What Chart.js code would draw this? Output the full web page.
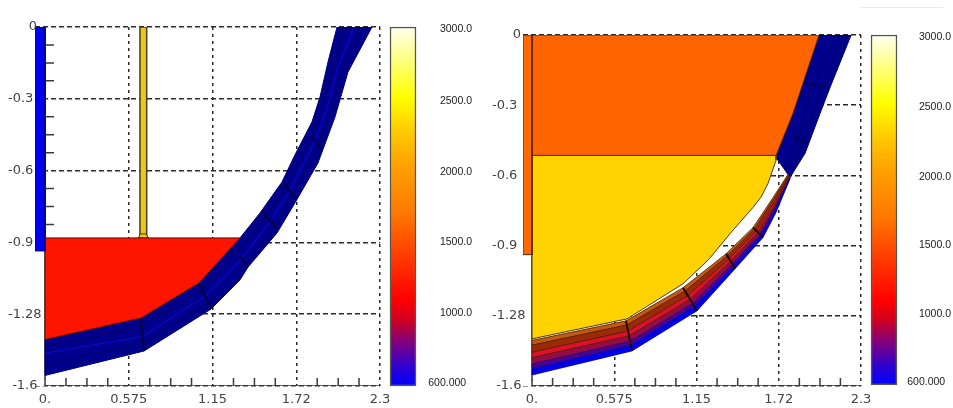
<!DOCTYPE html>
<html>
<head>
<meta charset="utf-8">
<script src="https://cdn.jsdelivr.net/npm/chart.js@4"></script>
<style>
html, body { margin: 0; padding: 0; background: #fff; }
body { position: relative; width: 953px; height: 408px; overflow: hidden; }
canvas { position: absolute; top: 0; filter: blur(0.5px); }
#mark { position: absolute; left: 861px; top: 7px; width: 82px; height: 1px; background: #e8e8e8; }
</style>
</head>
<body>
<canvas id="plotLeft" style="left:0" width="395" height="408"></canvas>
<canvas id="plotRight" style="left:488px" width="395" height="408"></canvas>
<canvas id="barLeft" style="left:385px" width="90" height="408"></canvas>
<canvas id="barRight" style="left:866px" width="87" height="408"></canvas>
<div id="mark"></div>
<script>
// axis ticks, y labels are left aligned so the 0 gets leading spaces
const xTicks = [0, 0.575, 1.15, 1.725, 2.3];
const xLabels = ['0.', '0.575', '1.15', '1.72', '2.3'];
const yTicks = [0, -0.32, -0.64, -0.96, -1.28, -1.6];
const yLabels = ['     0', '-0.3', '-0.6', '-0.9', '-1.28', ' -1.6'];
const xMinor = [0.144, 0.288, 0.431, 0.719, 0.863, 1.006, 1.294, 1.438, 1.581, 1.869, 2.013, 2.156];
const yMinor = [-0.08, -0.16, -0.24, -0.4, -0.48, -0.56, -0.72, -0.8, -0.88];

// colour bar
const barTicks = [620, 1087, 1560, 2027, 2503, 2987];
const barLabels = ['600.000  ', '1000.0', '1500.0', '2000.0', '2500.0', '3000.0'];
const barStops = [600, 733, 889, 1044, 1178, 1489, 1756, 2067, 2289, 2533, 2844, 3000];
const barColors = ['#0000ff', '#3000d0', '#800080', '#d00020', '#ff0000', '#ff4000', '#ff7800', '#ffa000', '#ffc800', '#ffff00', '#ffffa0', '#fffff0'];

// left panel
const leftWall = [[-0.0687, 0], [0, 0], [0, -0.998], [-0.0687, -0.998], [-0.0687, 0]];
const leftRod = [[0.652, 0], [0.698, 0], [0.698, -0.94], [0.652, -0.94], [0.652, 0]];
const leftFoot = [[0.64, -0.94], [0.71, -0.94], [0.695, -0.922], [0.655, -0.922], [0.64, -0.94]];
const leftPool = [[0, -0.94], [1.339, -0.94], [1.057, -1.141], [0.659, -1.297], [0, -1.393], [0, -0.94]];
const leftInner = [[0, -1.393], [0.659, -1.297], [1.057, -1.141], [1.339, -0.94], [1.476, -0.829], [1.627, -0.691], [1.716, -0.57], [1.833, -0.423], [1.888, -0.312], [1.943, -0.156], [2.005, 0]];
const leftOuter = [[0, -1.553], [0.68, -1.444], [1.14, -1.257], [1.339, -1.127], [1.394, -1.07], [1.593, -0.918], [1.716, -0.784], [1.874, -0.606], [1.991, -0.401], [2.08, -0.201], [2.245, 0]];
const leftMidA = [[0, -1.454], [0.664, -1.38], [1.1, -1.2], [1.339, -1.04], [1.536, -0.875], [1.67, -0.74], [1.85, -0.515], [1.94, -0.355], [2.01, -0.18], [2.125, 0]];
const leftMidB = [[0, -1.505], [0.672, -1.41], [1.12, -1.23], [1.36, -1.08], [1.56, -0.9], [1.69, -0.765], [1.86, -0.56], [1.965, -0.38], [2.045, -0.19], [2.185, 0]];
const leftMidC = [[0, -1.425], [0.662, -1.335], [1.08, -1.17], [1.33, -0.995], [1.51, -0.85], [1.65, -0.715], [1.84, -0.47], [1.915, -0.335], [1.975, -0.17], [2.065, 0]];
const leftCross = [
  [[0.659, -1.297], [0.68, -1.444]],
  [[1.057, -1.141], [1.14, -1.257]],
  [[1.339, -1.025], [1.394, -1.07]],
  [[1.49, -0.824], [1.593, -0.896]],
  [[1.634, -0.695], [1.716, -0.762]],
  [[1.833, -0.49], [1.902, -0.548]]
];

// right panel
const rightWall = [[-0.063, 0], [0, 0], [0, -1.001], [-0.063, -1.001], [-0.063, 0]];
const rightTop = [[0, 0], [2.007, 0], [1.895, -0.219], [1.825, -0.357], [1.706, -0.549], [0, -0.549], [0, 0]];
const rightPool = [[0, -0.549], [1.706, -0.549], [1.706, -0.571], [1.65, -0.677], [1.6, -0.74], [1.545, -0.786], [1.385, -0.905], [1.24, -1.02], [1.056, -1.134], [0.664, -1.294], [0, -1.385], [0, -0.549]];
const rightBand = [[1.804, -0.649], [1.909, -0.539], [2.014, -0.357], [2.084, -0.238], [2.231, 0], [2.007, 0], [1.895, -0.219], [1.825, -0.357], [1.706, -0.558], [1.804, -0.649]];
const rightMidA = [[1.79, -0.6], [1.885, -0.42], [1.95, -0.25], [2.12, 0]];
const rightMidB = [[1.84, -0.59], [1.94, -0.4], [2.02, -0.24], [2.18, 0]];
const layer0 = [[0, -1.392], [0.657, -1.303], [1.056, -1.152], [1.357, -0.997], [1.545, -0.878], [1.685, -0.741], [1.79, -0.635]];
const layer1 = [[0, -1.414], [0.663, -1.322], [1.07, -1.167], [1.366, -1.007], [1.555, -0.884], [1.688, -0.751], [1.794, -0.64]];
const layer2 = [[0, -1.446], [0.671, -1.35], [1.089, -1.188], [1.378, -1.02], [1.569, -0.893], [1.692, -0.764], [1.797, -0.644]];
const layer3 = [[0, -1.471], [0.678, -1.372], [1.105, -1.205], [1.389, -1.031], [1.58, -0.9], [1.696, -0.775], [1.799, -0.647]];
const layer4 = [[0, -1.499], [0.686, -1.396], [1.123, -1.223], [1.4, -1.043], [1.593, -0.909], [1.699, -0.787], [1.801, -0.65]];
const layer5 = [[0, -1.522], [0.691, -1.415], [1.136, -1.238], [1.409, -1.053], [1.602, -0.915], [1.702, -0.797], [1.803, -0.652]];
const layer6 = [[0, -1.55], [0.699, -1.44], [1.154, -1.257], [1.42, -1.065], [1.615, -0.923], [1.706, -0.809], [1.804, -0.655]];
const layerColors = ['#c05a10', '#9a2a08', '#dc1028', '#960a48', '#4a0090'];
const layerOuterColor = '#0000e8';
const rightCrossBlue = [
  [[1.825, -0.457], [1.93, -0.5]],
  [[1.895, -0.219], [2.05, -0.235]]
];
const rightCrossLayer = [
  [[0.657, -1.303], [0.699, -1.44]],
  [[1.056, -1.152], [1.154, -1.257]],
  [[1.357, -0.997], [1.42, -1.065]],
  [[1.545, -0.878], [1.615, -0.923]]
];

const inkColor = '#3c3c3c';

function pts(list) {
  return list.map(p => ({ x: p[0], y: p[1] }));
}

// closed polygon, filled through the filler plugin
function shape(list, fillColor, edgeColor, edgeWidth) {
  return {
    data: pts(list), showLine: true, fill: 'shape', backgroundColor: fillColor,
    borderColor: edgeColor, borderWidth: edgeWidth, pointRadius: 0
  };
}

function line(list, color, width) {
  return { data: pts(list), showLine: true, borderColor: color, borderWidth: width, pointRadius: 0, fill: false };
}

// several separate strokes in one dataset, NaN breaks the line
function strokes(lists, color, width) {
  const all = [];
  lists.forEach(l => { all.push(...l, [NaN, NaN]); });
  return line(all, color, width);
}

function band(a, b) {
  return a.concat(b.slice().reverse()).concat([a[0]]);
}

function makePlot(id, xMin, area, labelPad, paint) {
  const wallMask = [[xMin, -0.95], [-0.002, -0.95], [-0.002, -1.6], [xMin, -1.6], [xMin, -0.95]];
  const xMarks = xMinor.map(v => [[v, -1.6], [v, -1.564]]);
  const yMarks = yMinor.map(v => [[0, v], [0.062, v]]);
  const axisLine = [[0, 0], [0, -1.6], [2.3, -1.6]];
  const datasets = [
    shape(wallMask, '#ffffff', '#ffffff', 0),
    strokes(xMarks, inkColor, 1.5),
    strokes(yMarks, inkColor, 1.5),
    line(axisLine, inkColor, 1.5)
  ].concat(paint);
  return new Chart(document.getElementById(id), {
    type: 'scatter',
    data: { datasets: datasets.reverse() },
    options: {
      responsive: false, animation: false,
      layout: { padding: area },
      plugins: { legend: { display: false }, tooltip: { enabled: false } },
      scales: {
        x: {
          type: 'linear', min: xMin, max: 2.3,
          afterBuildTicks: s => { s.ticks = xTicks.map(v => ({ value: v })); },
          afterFit: s => { s.height = 22; s.paddingLeft = 0; s.paddingRight = 0; },
          border: { display: false, dash: [3, 4] },
          grid: { color: '#2a2a2a', lineWidth: 1.5, drawTicks: false },
          ticks: {
            autoSkip: false, maxRotation: 0, padding: 6, color: '#444',
            font: { family: 'DejaVu Sans', size: 13 },
            callback: (v, i) => xLabels[i]
          }
        },
        y: {
          type: 'linear', min: -1.6, max: 0,
          afterBuildTicks: s => { s.ticks = yTicks.map(v => ({ value: v })); },
          afterFit: s => { s.width = 35; s.paddingTop = 0; s.paddingBottom = 0; },
          border: { display: false, dash: [5, 3] },
          grid: { color: '#2a2a2a', lineWidth: 1.5, drawTicks: false },
          ticks: {
            autoSkip: false, mirror: true, padding: labelPad, color: '#444', z: 1,
            font: { family: 'DejaVu Sans', size: 13 },
            callback: (v, i) => yLabels[i]
          }
        }
      }
    }
  });
}

function makeBar(id, area) {
  return new Chart(document.getElementById(id), {
    type: 'bar',
    data: {
      labels: [''],
      datasets: [{
        data: [[600, 3000]],
        barPercentage: 1, categoryPercentage: 1, clip: false,
        borderColor: '#55554a', borderWidth: 1.5, borderSkipped: false,
        backgroundColor(ctx) {
          const c = ctx.chart;
          if (!c.chartArea) return '#000';
          const s = c.scales.y;
          const g = c.ctx.createLinearGradient(0, s.getPixelForValue(600), 0, s.getPixelForValue(3000));
          barStops.forEach((v, i) => g.addColorStop((v - 600) / 2400, barColors[i]));
          return g;
        }
      }]
    },
    options: {
      responsive: false, animation: false,
      layout: { padding: area },
      plugins: { legend: { display: false }, tooltip: { enabled: false } },
      scales: {
        x: { display: false },
        y: {
          position: 'right', min: 600, max: 3000,
          afterBuildTicks: s => { s.ticks = barTicks.map(v => ({ value: v })); },
          afterFit: s => { s.width = area.labelWidth; s.paddingTop = 0; s.paddingBottom = 0; },
          border: { display: false },
          grid: { display: false },
          ticks: {
            autoSkip: false, padding: 0, crossAlign: 'far', color: '#222', z: 1,
            font: { family: 'Liberation Sans', size: 10.5 },
            callback: (v, i) => barLabels[i]
          }
        }
      }
    }
  });
}

makePlot('plotLeft', -0.0687, { left: 0, top: 27, right: 15, bottom: 0 }, -27, [
  shape(leftRod, '#ecc81e', '#4a3c10', 1.5),
  shape(leftFoot, '#ecc81e', '#4a3c10', 1),
  shape(band(leftInner, leftOuter), '#00008c', '#000070', 1),
  line(leftMidC, '#000060', 1),
  line(leftMidA, '#0808c8', 1.2),
  line(leftMidB, '#000060', 1),
  strokes(leftCross, '#000040', 2),
  shape(leftPool, '#ff1400', '#5a1000', 1),
  shape(leftWall, '#0000f0', '#000080', 1)
]);

makePlot('plotRight', -0.063, { left: 0, top: 35, right: 22, bottom: 0 }, -31, [
  shape(rightBand, '#00008c', '#000070', 1),
  line(rightMidA, '#000060', 1),
  line(rightMidB, '#000060', 1),
  strokes(rightCrossBlue, '#000050', 1.5),
  shape(band(layer0, layer1), layerColors[0], '#5a1c00', 0.8),
  shape(band(layer1, layer2), layerColors[1], '#5a1c00', 0.8),
  shape(band(layer2, layer3), layerColors[2], '#5a1c00', 0.8),
  shape(band(layer3, layer4), layerColors[3], '#5a1c00', 0.8),
  shape(band(layer4, layer5), layerColors[4], '#30006a', 0.8),
  shape(band(layer5, layer6), layerOuterColor, '#0000a0', 0.8),
  strokes(rightCrossLayer, '#200010', 2),
  shape(rightTop, '#ff6400', '#5a2400', 1),
  shape(rightPool, '#ffd200', '#4a3a00', 1),
  shape(rightWall, '#ff6a00', '#5a2400', 1)
]);

makeBar('barLeft', { left: 5, top: 27, right: 3, bottom: 22, labelWidth: 56 });
makeBar('barRight', { left: 5, top: 35, right: 2, bottom: 23, labelWidth: 54 });
</script>
</body>
</html>
